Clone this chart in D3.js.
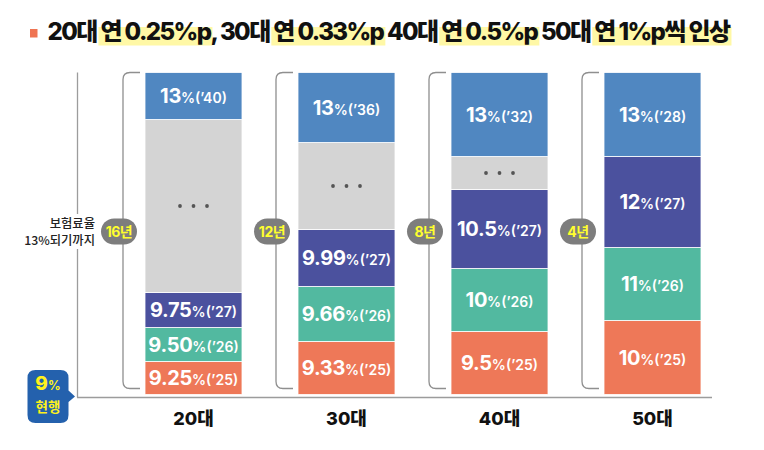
<!DOCTYPE html>
<html><head><meta charset="utf-8">
<script src="https://cdn.jsdelivr.net/npm/d3@7/dist/d3.min.js"></script>
<style>
html,body{margin:0;padding:0;background:#fff;}
svg{display:block;font-family:Inter,"Noto Sans CJK KR",sans-serif;}
</style></head>
<body>
<svg id="chart" width="764" height="450"></svg>
<script>
// ---- data ----
const categories = ["20대","30대","40대","50대"];
const durations = ["16년","12년","8년","4년"];
const segRates = [
  ["9.25","9.50","9.75","","13"],
  ["9.33","9.66","9.99","","13"],
  ["9.5","10","10.5","","13"],
  ["10","11","12","13"]
];
const segYears = [
  ["’25","’26","’27","","’40"],
  ["’25","’26","’27","","’36"],
  ["’25","’26","’27","","’32"],
  ["’25","’26","’27","’28"]
];
const segKinds = [
  ["y1","y2","y3","gap","goal"],
  ["y1","y2","y3","gap","goal"],
  ["y1","y2","y3","gap","goal"],
  ["y1","y2","y3","goal"]
];
// relative visual heights of the segments (bottom to top)
const segWeights = [
  [33,34,35,173,47],
  [53,55,57,87,70],
  [63,63,79,33,84],
  [74,73,91,84]
];
const titleParts = [
  {t:"20대 ", hl:false},{t:"연 0.25%p", hl:true},{t:", 30대 ", hl:false},{t:"연 0.33%p", hl:true},
  {t:" 40대 ", hl:false},{t:"연 0.5%p", hl:true},{t:" 50대 ", hl:false},{t:"연 1%p씩 인상", hl:true}
];
const currentRate = "9";
const axisNote = ["보험료율","13%되기까지"];

// ---- styles ----
const colors = {y1:"#ee7858", y2:"#52b9a0", y3:"#4b519e", gap:"#d4d4d4", goal:"#5087c1"};
const svg = d3.select("#chart");

// ---- scales ----
const x = d3.scaleBand().domain(categories).range([117,729]).paddingInner(0.366).paddingOuter(0.183);
const total = d3.max(segWeights, w => d3.sum(w));
const y = d3.scaleLinear().domain([0,total]).range([394.5,72.5]);

// ---- title ----
const title = svg.append("text").attr("x",47.5).attr("y",40)
  .attr("font-size",24).attr("font-weight",800).attr("fill","#111").attr("xml:space","preserve");
titleParts.forEach(p => title.append("tspan").text(p.t));
const natural = title.node().getComputedTextLength();
const nChars = titleParts.map(p=>p.t).join("").length;
title.attr("letter-spacing", (682 - natural)/nChars);
let idx = 0;
const tn = title.node();
const hlG = svg.insert("g","text");
titleParts.forEach(p => {
  if (p.hl) {
    const s = tn.getStartPositionOfChar(idx).x;
    const e = tn.getEndPositionOfChar(idx + p.t.length - 1).x;
    hlG.append("rect").attr("x",s-2).attr("y",27).attr("width",e-s+4).attr("height",18.5).attr("fill","#fff8a6");
  }
  idx += p.t.length;
});
svg.append("rect").attr("x",30).attr("y",29).attr("width",7.5).attr("height",8.5).attr("fill","#ef7452");

// ---- axes frame ----
const axisColor = "#9c9c9c";
svg.append("line").attr("x1",77.5).attr("x2",77.5).attr("y1",y(total)).attr("y2",397.5)
  .attr("stroke",axisColor).attr("stroke-width",1.3);
svg.append("line").attr("x1",77).attr("x2",712).attr("y1",397.5).attr("y2",397.5)
  .attr("stroke",axisColor).attr("stroke-width",1.3);

// axis note
svg.append("rect").attr("x",18).attr("y",214).attr("width",80).attr("height",35).attr("fill","#fff");
const note = svg.append("text").attr("text-anchor","end").attr("font-size",12.3).attr("font-weight",500).attr("fill","#222")
  .attr("font-family","'Noto Sans CJK KR',sans-serif");
note.append("tspan").attr("x",95).attr("y",227.5).text(axisNote[0]);
note.append("tspan").attr("x",95).attr("y",245).text(axisNote[1]);

// ---- bars ----
categories.forEach((cat, i) => {
  const g = svg.append("g");
  const w = segWeights[i];
  const cum = d3.cumsum(w);
  const segs = w.map((v,j) => ({v, y0: cum[j]-v, y1: cum[j], kind: segKinds[i][j], rate: segRates[i][j], yr: segYears[i][j]}));
  const bx = x(cat), bw = x.bandwidth();
  g.selectAll("rect").data(segs).join("rect")
    .attr("x",bx).attr("width",bw)
    .attr("y",d => y(d.y1)).attr("height",d => y(d.y0)-y(d.y1))
    .attr("fill",d => colors[d.kind]).attr("stroke","#fff").attr("stroke-width",0.8);
  segs.forEach(d => {
    const cy = (y(d.y0)+y(d.y1))/2;
    if (d.kind === "gap") {
      [-13.5,0,13.5].forEach(dx => g.append("circle").attr("cx",bx+bw/2+dx).attr("cy",cy).attr("r",1.9).attr("fill","#555"));
    } else {
      const t = g.append("text").attr("x",bx+bw/2).attr("y",cy+7).attr("text-anchor","middle").attr("fill","#fff");
      t.append("tspan").attr("font-size",20).attr("font-weight",700).attr("letter-spacing",-0.3).text(d.rate);
      t.append("tspan").attr("font-size",14).attr("font-weight",600).text("%(" + d.yr + ")");
    }
  });
  // bracket
  const brX = bx - 22, brEnd = bx - 5, top = y(total), bot = 388.5, r = 7;
  g.append("path")
    .attr("d",`M${brEnd},${top} H${brX+r} Q${brX},${top} ${brX},${top+r} V${bot-r} Q${brX},${bot} ${brX+r},${bot} H${brEnd}`)
    .attr("fill","none").attr("stroke","#8f8f8f").attr("stroke-width",1.3);
  // badge
  const bcx = brX - 4, bcy = 231.5;
  g.append("rect").attr("x",bcx-18).attr("y",bcy-13).attr("width",36).attr("height",26).attr("rx",13)
    .attr("fill","#7d7d7d");
  g.append("text").attr("x",bcx).attr("y",bcy+5).attr("text-anchor","middle").attr("font-size",14)
    .attr("font-weight",700).attr("fill","#ffff2e").attr("letter-spacing",-0.5).text(durations[i]);
  // category label
  g.append("text").attr("x",bx+bw/2).attr("y",424.5).attr("text-anchor","middle").attr("font-size",18)
    .attr("font-weight",800).attr("fill","#111").text(cat);
});

// ---- current rate bubble ----
svg.append("path")
  .attr("d","M35.5,370 H60.5 Q68.5,370 68.5,378 V390.5 L75,396.5 L68.5,402 V415 Q68.5,423 60.5,423 H35.5 Q27.5,423 27.5,415 V378 Q27.5,370 35.5,370 Z")
  .attr("fill","#2461ad");
const bt = svg.append("text").attr("x",48).attr("y",390).attr("text-anchor","middle").attr("fill","#fff21a").attr("font-weight",800);
bt.append("tspan").attr("font-size",19).text(currentRate);
bt.append("tspan").attr("font-size",12.5).attr("font-weight",700).text("%");
svg.append("text").attr("x",48).attr("y",412).attr("text-anchor","middle").attr("fill","#fff21a")
  .attr("font-size",13.5).attr("font-weight",700).attr("font-family","'Noto Sans CJK KR',sans-serif").text("현행");
</script>
</body></html>
